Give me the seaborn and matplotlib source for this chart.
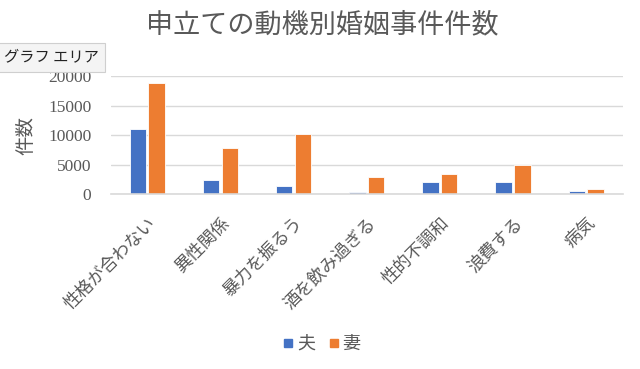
import matplotlib
matplotlib.use("Agg")
import matplotlib.pyplot as plt
import seaborn as sns
import pandas as pd
from matplotlib.lines import Line2D
from matplotlib.font_manager import FontProperties, findfont

categories = ["性格が合わない", "異性関係", "暴力を振るう", "酒を飲み過ぎる", "性的不調和", "浪費する", "病気"]
husband = [11000, 2420, 1360, 340, 2140, 2140, 560]
wife = [18800, 7850, 10200, 2930, 3440, 4970, 850]
series = ["夫", "妻"]
colors = ["#4472C4", "#ED7D31"]
yticks = [0, 5000, 10000, 15000, 20000]

df = pd.DataFrame({
    "cat": categories * 2,
    "val": husband + wife,
    "who": [series[0]] * len(categories) + [series[1]] * len(categories),
})

sns.set_theme(style="white")
plt.rcParams["font.family"] = ["Noto Sans CJK JP", "DejaVu Sans"]

fig = plt.figure(figsize=(6.4, 3.69), dpi=100)
ax = fig.add_axes([0.173, 0.473, 0.8, 0.321])

sns.barplot(data=df, x="cat", y="val", hue="who", palette=colors, width=0.51, gap=0.12,
            ax=ax, legend=False, saturation=1, edgecolor="white", linewidth=0.6)

ax.set_ylim(0, 20000)
ax.set_xlim(-0.5, len(categories) - 0.5)
ax.set_yticks(yticks)
ax.set_yticklabels([str(v) for v in yticks])
ax.tick_params(axis="y", length=0, pad=14)
ax.yaxis.grid(True, color="#d9d9d9", linewidth=1)
ax.set_axisbelow(True)
for s in ["top", "right", "left"]:
    ax.spines[s].set_visible(False)
ax.spines["bottom"].set_color("#d9d9d9")
ax.spines["bottom"].set_linewidth(1.2)
ax.tick_params(axis="x", length=0, pad=14)
ax.set_xlabel("")
ax.set_ylabel("件数", fontsize=14, color="#595959")
ax.set_xticks(range(len(categories)))
ax.set_xticklabels(categories, rotation=45, ha="right", rotation_mode="anchor",
                   fontsize=12.5, color="#595959")
ax.yaxis.set_label_coords(-0.145, 0.5)

fig.text(0.503, 0.932, "申立ての動機別婚姻事件件数", ha="center", va="center",
         fontsize=19.5, color="#595959")

# Excel tooltip
fig.text(0.006, 0.845, "グラフ エリア", ha="left", va="center", fontsize=11, color="#222222",
         bbox=dict(boxstyle="square,pad=0.4", fc="#f4f4f4", ec="#cfcfcf", lw=0.8))

handles = [Line2D([0], [0], marker="s", linestyle="none", markersize=6,
                  markerfacecolor=c, markeredgecolor=c) for c in colors]
fig.legend(handles, series, loc="center", bbox_to_anchor=(0.5, 0.068), ncol=2, frameon=False,
           fontsize=13, labelcolor="#595959", handletextpad=0.0, columnspacing=0.5,
           handlelength=1.0)

fig.canvas.draw()
serif_path = findfont(FontProperties(family="Liberation Serif"))
serif_fp = FontProperties(fname=serif_path, size=12.5)
for t in ax.get_yticklabels():
    t.set_fontproperties(serif_fp)
    t.set_color("#595959")

fig.savefig("out.png", dpi=100)
